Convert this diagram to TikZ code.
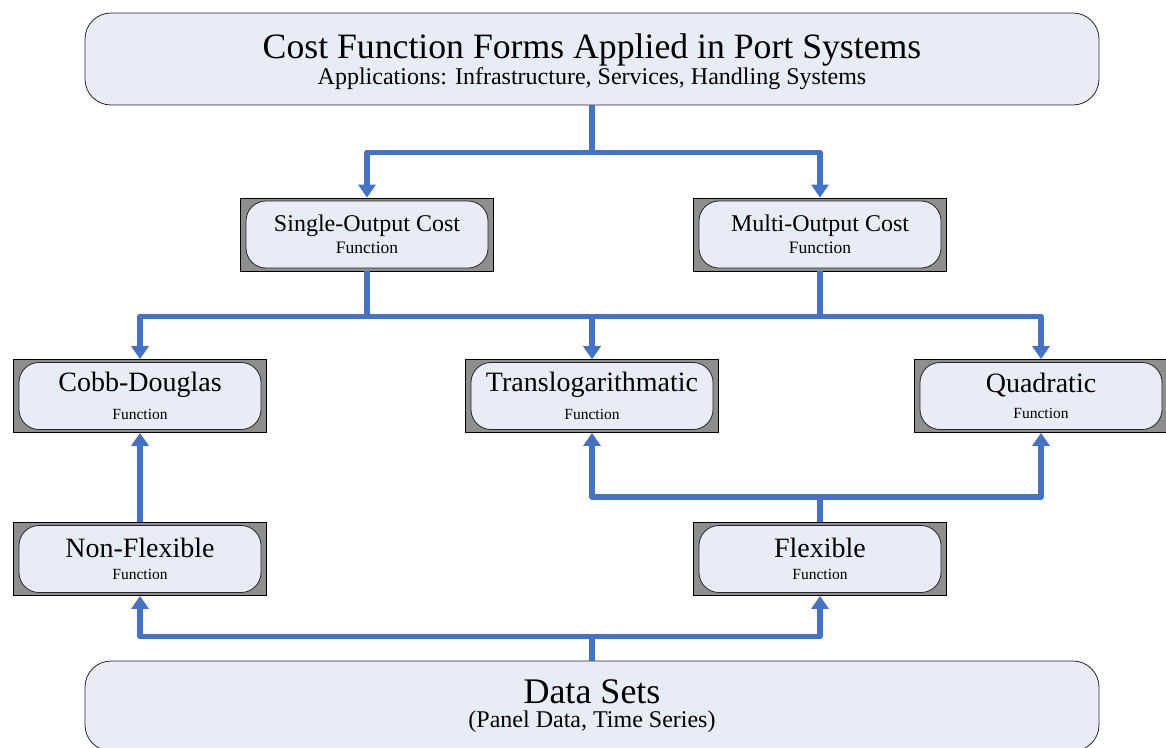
\documentclass[tikz,border=0pt]{standalone}
\usepackage{fontspec}
\setmainfont{Liberation Serif}
\usetikzlibrary{arrows.meta,positioning}
\definecolor{linkblue}{HTML}{4472C4}
\definecolor{boxfill}{HTML}{E7ECF6}
\definecolor{framegray}{HTML}{8E8E8E}
\newcommand{\fs}[1]{\fontsize{#1}{#1}\selectfont}

\begin{document}
\begin{tikzpicture}[x=1pt,y=-1pt,
  frame/.style={draw=black,fill=framegray,line width=0.8pt,minimum width=253pt,minimum height=73pt,inner sep=0pt},
  inbox/.style={draw=black!85,fill=boxfill,rounded corners=20pt,line width=0.8pt,minimum width=242pt,minimum height=67pt,align=center,inner sep=0pt},
  bigbox/.style={draw=black!85,fill=boxfill,rounded corners=26pt,line width=0.8pt,minimum width=1014pt,align=center,inner sep=0pt},
  link/.style={draw=linkblue,line width=5.5pt,line join=round,-{Triangle[width=17pt,length=13pt]}}]
  \useasboundingbox (0,0) rectangle (1166,747);
  % top and bottom boxes
  \node[bigbox,minimum height=92pt] (top) at (592,59) {\fs{35.7}\rule{0pt}{30pt}Cost Function Forms Applied in Port Systems\\[1pt]\fs{24}Applications: Infrastructure, Services, Handling Systems};
  \node[bigbox,minimum height=90pt] (data) at (592,706) {\fs{36}Data Sets\\[6pt]\fs{24}(Panel Data, Time Series)};
  % framed boxes
  \path (367,234.5) node[frame] (single) {} (820,234.5) node[frame] (multi) {}
  (140,396) node[frame] (cobb) {} (592,396) node[frame] (trans) {} (1041,396) node[frame] (quad) {}
  (140,559) node[frame] (nonflex) {} (820,559) node[frame] (flex) {};
  \node[inbox] (single-in) at (single) {\fs{24}Single-Output Cost\\[4pt]\fs{17.5}Function};
  \node[inbox] (multi-in) at (multi) {\fs{24}Multi-Output Cost\\[4pt]\fs{17.5}Function};
  \node[inbox] (cobb-in) at (cobb) {\fs{28}Cobb-Douglas\\[10pt]\fs{15.5}Function};
  \node[inbox] (trans-in) at (trans) {\fs{28}Translogarithmatic\\[10pt]\fs{15.5}Function};
  \node[inbox] (quad-in) at (quad) {\fs{28}Quadratic\\[10pt]\fs{15.5}Function};
  \node[inbox] (nonflex-in) at (nonflex) {\fs{28}Non-Flexible\\[10pt]\fs{15.5}Function};
  \node[inbox] (flex-in) at (flex) {\fs{28}Flexible\\[10pt]\fs{15.5}Function};
  % connectors
  \draw[link] (top.south) -- ++(0,47) -| (single.north);
  \draw[link] (top.south) -- ++(0,47) -| (multi.north);
  \draw[link] (single.south) -- ++(0,45) -| (cobb.north);
  \draw[link] (single.south) -- ++(0,45) -| (trans.north);
  \draw[link] (multi.south) -- ++(0,45) -| (trans.north);
  \draw[link] (multi.south) -- ++(0,45) -| (quad.north);
  \draw[link] (nonflex.north) -- (cobb.south);
  \draw[link] (flex.north) -- ++(0,-25) -| (trans.south);
  \draw[link] (flex.north) -- ++(0,-25) -| (quad.south);
  \draw[link] (data.north) -- ++(0,-24) -| (nonflex.south);
  \draw[link] (data.north) -- ++(0,-24) -| (flex.south);
\end{tikzpicture}
\end{document}
